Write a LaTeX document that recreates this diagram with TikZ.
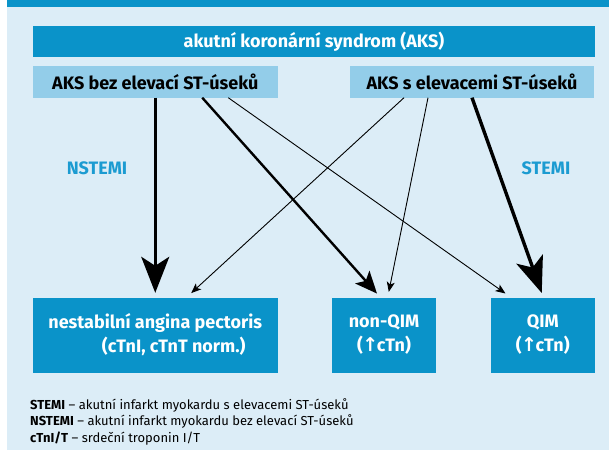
\documentclass[tikz,border=0pt]{standalone}
\usepackage{fontspec}
\setmainfont{Fira Sans}
\newfontfamily\symfont{DejaVu Sans}
\usetikzlibrary{arrows.meta}

\definecolor{barblue}{HTML}{0A93C9}
\definecolor{panelblue}{HTML}{DCEDF7}
\definecolor{subblue}{HTML}{93CDE9}
\definecolor{labelblue}{HTML}{1B9BD1}

% bold up arrow set tight against its neighbours
\newcommand{\upmark}{\kern-0.5pt{\symfont\bfseries\fontsize{19}{24}\selectfont ↑}\kern-1.5pt}

\tikzset{
  mainbar/.style={fill=barblue, text=white, inner sep=0pt,
    font=\bfseries\fontsize{18}{20}\selectfont,
    minimum width=562pt, minimum height=31pt},
  subbox/.style={fill=subblue, text=black, inner sep=0pt,
    font=\bfseries\fontsize{18}{20}\selectfont,
    minimum width=244.5pt, minimum height=31.5pt},
  outbox/.style={fill=barblue, text=white, inner sep=0pt, align=center,
    font=\bfseries\fontsize{18}{24}\selectfont,
    minimum height=75pt},
  kindlabel/.style={text=labelblue, font=\bfseries\fontsize{18}{20}\selectfont},
  legendline/.style={anchor=base west, inner sep=0pt,
    font=\fontsize{13}{15}\selectfont},
  heavyarrow/.style={line width=3pt,
    -{Stealth[length=36pt, width=28pt, inset=9pt]}, shorten >=3pt},
  midarrow/.style={line width=2.4pt,
    -{Stealth[length=22pt, width=19pt, inset=5pt]}, shorten >=3pt},
  lightarrow/.style={line width=0.9pt,
    -{Stealth[length=10pt, width=8pt, inset=2.5pt]}, shorten >=4pt},
}

\begin{document}
\begin{tikzpicture}[x=1pt, y=-1pt]
  % page and background panel
  \useasboundingbox (0,0) rectangle (609,455);
  \fill[white] (0,0) rectangle (609,455);
  \fill[panelblue] (7,0) rectangle (609,450);
  \fill[barblue] (7,0) rectangle (609,7);

  % header and the two kinds of AKS
  \node[mainbar] (aks) at (314,41.5) {akutní koronární syndrom (AKS)};
  \node[subbox] (bez) at (155.25,81.75) {AKS bez elevací ST-úseků};
  \node[subbox] (sel) at (472,81.75) {AKS s elevacemi ST-úseků};

  % outcome boxes
  \node[outbox, minimum width=244.5pt] (nap) at (155.25,335)
    {nestabilní angina pectoris\\\hspace*{37pt}(cTnI, cTnT norm.)};
  \node[outbox, minimum width=104pt] (nqim) at (384,335)
    {non-QIM\\(\upmark cTn)};
  \node[outbox, minimum width=103.5pt] (qim) at (542.75,335)
    {QIM\\(\upmark cTn)};

  % side labels
  \node[kindlabel] (nst) at (97,168) {NSTEMI};
  \node[kindlabel] (st) at (546,168) {STEMI};

  % connectors from AKS without ST elevation
  \draw[heavyarrow] (bez.south) -- ([yshift=1.5pt]nap.north);
  \draw[midarrow] ([xshift=47pt]bez.south) -- ([xshift=-5pt,yshift=1.5pt]nqim.north);
  \draw[lightarrow] ([xshift=73pt]bez.south) -- ([xshift=-34pt,yshift=1.5pt]qim.north);

  % connectors from AKS with ST elevation
  \draw[lightarrow] ([xshift=-68pt]sel.south) -- ([xshift=33pt,yshift=1.5pt]nap.north);
  \draw[lightarrow] ([xshift=-44pt]sel.south) -- ([xshift=4pt,yshift=1.5pt]nqim.north);
  \draw[heavyarrow, line width=3.4pt] (sel.south) -- ([yshift=1.5pt]qim.north);

  % legend
  \node[legendline] (l1) at (30,409) {\textbf{STEMI} – akutní infarkt myokardu s elevacemi ST-úseků};
  \node[legendline] (l2) at (30,425.5) {\textbf{NSTEMI} – akutní infarkt myokardu bez elevací ST-úseků};
  \node[legendline] (l3) at (30,442) {\textbf{cTnI/T} – srdeční troponin I/T};
\end{tikzpicture}
\end{document}
